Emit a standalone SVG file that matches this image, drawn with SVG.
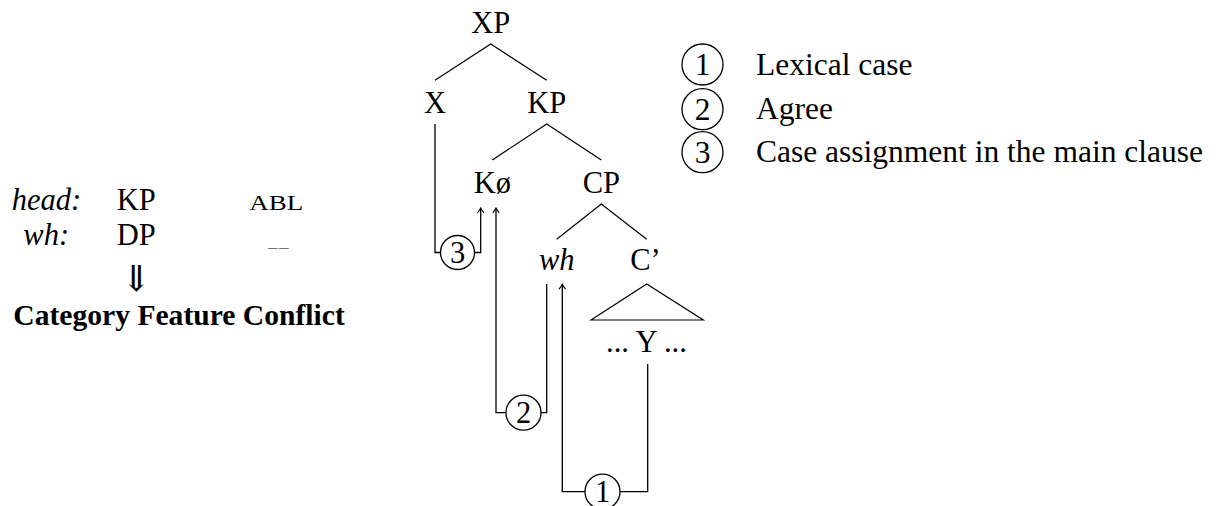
<svg xmlns="http://www.w3.org/2000/svg" width="1220" height="506" viewBox="0 0 1220 506">
  <style>
    text { font-family: "Liberation Serif", "Times New Roman", serif; font-size: 30.5px; fill: #000; }
    .lbl { text-anchor: middle; }
    .it { font-style: italic; }
    .num { text-anchor: middle; }
    .key { font-size: 31.5px; }
    .branch { fill: none; stroke: #000; stroke-width: 1.2; }
    .link { fill: none; stroke: #000; stroke-width: 1.3; }
    .ring { fill: #fff; stroke: #000; stroke-width: 1.3; }
  </style>
  <defs>
    <marker id="tip" viewBox="-6 -4 7 8" markerWidth="7" markerHeight="8" refX="0" refY="0" orient="auto" markerUnits="userSpaceOnUse">
      <path d="M-4.8,-3.3 Q-1.6,-0.6 0,0 Q-1.6,0.6 -4.8,3.3" fill="none" stroke="#000" stroke-width="1.1"/>
    </marker>
  </defs>

  <!-- feature table on the left -->
  <g id="features">
    <text class="it" x="11.7" y="209.5">head:</text>
    <text x="116.7" y="209.5">KP</text>
    <text x="249.3" y="209.5" style="font-size:21.6px" textLength="54" lengthAdjust="spacingAndGlyphs">ABL</text>
    <text class="it" x="23.3" y="245">wh:</text>
    <text x="116.7" y="245">DP</text>
    <text x="268" y="247" style="font-size:19px;fill:#777" letter-spacing="1.5">__</text>
    <text x="136" y="291" style="font-family:'DejaVu Serif',serif;font-size:36px;text-anchor:middle">⇓</text>
    <text x="13.3" y="325" style="font-weight:bold;font-size:29.6px">Category Feature Conflict</text>
  </g>

  <!-- tree branches -->
  <g id="branches">
    <polyline class="branch" points="435,80.3 490.7,44 546.7,80.3"/>
    <polyline class="branch" points="492.3,160 546.7,124 601.3,160"/>
    <polyline class="branch" points="556.7,239.3 601.3,204 646.7,239.3"/>
    <polygon class="branch" points="591,320 646.7,284 703.3,320"/>
  </g>

  <!-- tree nodes -->
  <g id="node-XP"><text class="lbl" x="490.7" y="33.3">XP</text></g>
  <g id="node-X"><text class="lbl" x="435" y="113">X</text></g>
  <g id="node-KP"><text class="lbl" x="546.7" y="113">KP</text></g>
  <g id="node-K"><text class="lbl" x="492.3" y="193">Kø</text></g>
  <g id="node-CP"><text class="lbl" x="601.3" y="193">CP</text></g>
  <g id="node-wh"><text class="lbl it" x="556.7" y="270">wh</text></g>
  <g id="node-Cbar"><text class="lbl" x="645.5" y="270">C’</text></g>
  <g id="node-Y"><text class="lbl" x="646.5" y="351.7">... Y ...</text></g>

  <!-- dependency connectors -->
  <g id="connectors">
    <!-- 3: X to Kø -->
    <path class="link" d="M435,124 V252.5 H440.5"/>
    <path class="link" d="M474.5,252.5 H480.7 V208" marker-end="url(#tip)"/>
    <!-- 2: wh to Kø -->
    <path class="link" d="M546.7,284 V412.7 H541"/>
    <path class="link" d="M506,412.7 H496 V208" marker-end="url(#tip)"/>
    <!-- 1: Y to wh -->
    <path class="link" d="M647.7,364 V491.7 H620"/>
    <path class="link" d="M585,491.7 H562.3 V284.3" marker-end="url(#tip)"/>
  </g>

  <g id="step-3">
    <circle class="ring" cx="457.5" cy="252.5" r="17"/>
    <text class="num" x="457.5" y="263">3</text>
  </g>
  <g id="step-2">
    <circle class="ring" cx="523.5" cy="412.7" r="17.5"/>
    <text class="num" x="523.5" y="423.2">2</text>
  </g>
  <g id="step-1">
    <circle class="ring" cx="602.5" cy="491.7" r="17.5"/>
    <text class="num" x="602.5" y="502.2">1</text>
  </g>

  <!-- legend -->
  <g id="legend-1">
    <circle class="ring" cx="702.5" cy="64.5" r="20.5"/>
    <text class="num key" x="702.5" y="75">1</text>
    <text class="key" x="756" y="75">Lexical case</text>
  </g>
  <g id="legend-2">
    <circle class="ring" cx="702.5" cy="109.2" r="20.5"/>
    <text class="num key" x="702.5" y="119.7">2</text>
    <text class="key" x="756" y="119.3">Agree</text>
  </g>
  <g id="legend-3">
    <circle class="ring" cx="702.5" cy="152.2" r="20.5"/>
    <text class="num key" x="702.5" y="162.7">3</text>
    <text class="key" x="756" y="162">Case assignment in the main clause</text>
  </g>
</svg>
